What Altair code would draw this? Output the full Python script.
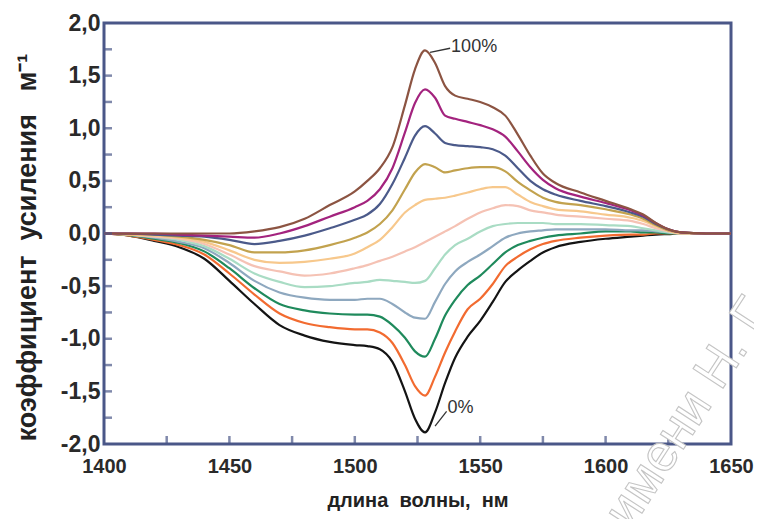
import altair as alt
import pandas as pd

# ---------------- data ----------------
wavelength = [1400, 1410, 1420, 1430, 1440, 1450, 1460, 1470, 1480, 1490,
              1500, 1505, 1510, 1515, 1520, 1524, 1528, 1532, 1536, 1540,
              1545, 1550, 1555, 1560, 1565, 1570, 1575, 1580, 1590, 1600,
              1610, 1615, 1620, 1625, 1630, 1640, 1650]

g0 = [0, -0.02, -0.07, -0.13, -0.24, -0.45, -0.67, -0.87, -0.97, -1.03,
      -1.06, -1.07, -1.10, -1.22, -1.50, -1.76, -1.89, -1.70, -1.42, -1.18,
      -0.98, -0.83, -0.65, -0.46, -0.35, -0.26, -0.18, -0.13, -0.08, -0.05,
      -0.03, -0.02, -0.01, -0.005, 0, 0, 0]
g10 = [0, -0.02, -0.06, -0.11, -0.20, -0.38, -0.58, -0.76, -0.85, -0.89,
       -0.91, -0.91, -0.94, -1.04, -1.25, -1.45, -1.54, -1.36, -1.13, -0.93,
       -0.72, -0.62, -0.48, -0.31, -0.22, -0.15, -0.10, -0.07, -0.04, -0.02,
       -0.01, -0.01, 0, 0, 0, 0, 0]
g20 = [0, -0.015, -0.05, -0.09, -0.17, -0.33, -0.52, -0.67, -0.73, -0.76,
       -0.77, -0.77, -0.79, -0.87, -0.99, -1.12, -1.17, -1.00, -0.78, -0.63,
       -0.49, -0.40, -0.29, -0.18, -0.11, -0.07, -0.04, -0.02, 0.0, 0.02,
       0.02, 0.01, 0.01, 0.0, 0, 0, 0]
g30 = [0, -0.01, -0.04, -0.08, -0.14, -0.28, -0.45, -0.56, -0.61, -0.63,
       -0.63, -0.62, -0.62, -0.67, -0.75, -0.80, -0.81, -0.65, -0.48, -0.36,
       -0.27, -0.20, -0.12, -0.04, 0.0, 0.02, 0.03, 0.04, 0.04, 0.04,
       0.03, 0.03, 0.02, 0.01, 0.0, 0, 0]
g40 = [0, -0.01, -0.03, -0.06, -0.12, -0.24, -0.38, -0.46, -0.51, -0.50,
       -0.47, -0.46, -0.44, -0.45, -0.46, -0.47, -0.45, -0.33, -0.20, -0.11,
       -0.05, 0.02, 0.07, 0.09, 0.10, 0.10, 0.10, 0.09, 0.09, 0.08,
       0.07, 0.05, 0.03, 0.01, 0.0, 0, 0]
g50 = [0, -0.01, -0.03, -0.05, -0.10, -0.20, -0.31, -0.36, -0.40, -0.38,
       -0.33, -0.30, -0.26, -0.22, -0.17, -0.13, -0.08, -0.03, 0.02, 0.07,
       0.14, 0.20, 0.24, 0.27, 0.26, 0.22, 0.20, 0.18, 0.16, 0.14,
       0.12, 0.09, 0.05, 0.02, 0.0, 0, 0]
g60 = [0, -0.01, -0.02, -0.04, -0.08, -0.16, -0.25, -0.28, -0.27, -0.24,
       -0.19, -0.13, -0.06, 0.06, 0.20, 0.27, 0.32, 0.33, 0.34, 0.36,
       0.39, 0.42, 0.44, 0.44, 0.37, 0.30, 0.26, 0.23, 0.21, 0.18,
       0.15, 0.12, 0.07, 0.03, 0.0, 0, 0]
g70 = [0, -0.005, -0.01, -0.03, -0.06, -0.11, -0.18, -0.18, -0.16, -0.11,
       -0.04, 0.01, 0.09, 0.22, 0.42, 0.58, 0.66, 0.63, 0.58, 0.60,
       0.62, 0.63, 0.63, 0.59, 0.49, 0.41, 0.34, 0.30, 0.27, 0.23,
       0.18, 0.14, 0.08, 0.03, 0.01, 0, 0]
g80 = [0, 0, -0.01, -0.02, -0.03, -0.06, -0.10, -0.07, -0.02, 0.05,
       0.13, 0.18, 0.28, 0.47, 0.72, 0.93, 1.02, 0.95, 0.86, 0.84,
       0.83, 0.82, 0.80, 0.74, 0.62, 0.50, 0.42, 0.37, 0.31, 0.26,
       0.20, 0.16, 0.09, 0.04, 0.01, 0, 0]
g90 = [0, 0, 0, -0.01, -0.02, -0.03, -0.04, 0.0, 0.07, 0.16,
       0.25, 0.31, 0.42, 0.62, 0.96, 1.24, 1.37, 1.29, 1.12, 1.09,
       1.06, 1.03, 0.99, 0.92, 0.78, 0.63, 0.51, 0.43, 0.35, 0.29,
       0.22, 0.17, 0.10, 0.04, 0.01, 0, 0]
g100 = [0, 0, 0, 0, 0, 0.0, 0.02, 0.06, 0.14, 0.27,
        0.40, 0.50, 0.62, 0.82, 1.22, 1.56, 1.74, 1.62, 1.40, 1.31,
        1.28, 1.25, 1.20, 1.12, 0.94, 0.74, 0.57, 0.48, 0.39, 0.31,
        0.23, 0.18, 0.10, 0.04, 0.01, 0, 0]

series_names = ["0%", "10%", "20%", "30%", "40%", "50%",
                "60%", "70%", "80%", "90%", "100%"]
series_values = [g0, g10, g20, g30, g40, g50, g60, g70, g80, g90, g100]
series_colors = ["#141414", "#f26b30", "#1f8a5c", "#8ea8bf", "#a9dcc4",
                 "#f5c2b4", "#f7c88c", "#c2a24e", "#4b5a8a", "#a3237e",
                 "#8c5442"]

x_labels = [1400, 1450, 1500, 1550, 1600, 1650]
y_labels = [-2.0, -1.5, -1.0, -0.5, 0.0, 0.5, 1.0, 1.5, 2.0]
x_tick_pos = [1425, 1450, 1475, 1500, 1525, 1550, 1575, 1600, 1625]
y_tick_pos = [-1.75, -1.5, -1.25, -1.0, -0.75, -0.5, -0.25, 0.0, 0.25,
              0.5, 0.75, 1.0, 1.25, 1.5, 1.75]

ann_text = ["100%", "0%"]
ann_wl = [1538.4, 1537.0]
ann_g = [1.77, -1.66]
lead_wl = [1530.0, 1532.0]
lead_g = [1.72, -1.83]
lead_wl2 = [1538.0, 1536.6]
lead_g2 = [1.76, -1.69]

# ---------------- build tables ----------------
rows = []
for name, vals in zip(series_names, series_values):
    for w, v in zip(wavelength, vals):
        rows.append({"wl": w, "g": v, "series": name})
df = pd.DataFrame(rows)

frame = "#4a5788"
font = "Liberation Sans"

x_scale = alt.Scale(domain=[1400, 1650], nice=False, zero=False)
y_scale = alt.Scale(domain=[-2.0, 2.0], nice=False, zero=False)
label_expr = ("(datum.value < 0 ? '-' : '') + "
              "replace(format(abs(datum.value), '.1f'), '.', ',')")

x_axis = alt.Axis(values=x_labels, format="d", title="длина\u00a0\u00a0волны,\u00a0\u00a0нм",
                  ticks=False, domain=False, grid=False, labelPadding=12,
                  labelFlush=False, labelOverlap=False,
                  labelFontSize=20, labelFontWeight="bold", labelColor="#2a2a2a",
                  labelFont=font,
                  titleFontSize=20, titleFont=font, titleFontWeight="bold",
                  titleColor="#222222", titlePadding=14)
y_axis = alt.Axis(values=y_labels, labelExpr=label_expr,
                  title="коэффициент\u00a0\u00a0усиления\u00a0\u00a0\u00a0м\u207b\u00b9",
                  ticks=False, domain=False, grid=False, labelPadding=4,
                  labelFlush=False, labelOverlap=False,
                  labelFontSize=23, labelFontWeight="bold", labelColor="#2a2a2a",
                  labelFont=font,
                  titleFontSize=27, titleFont=font, titleFontWeight="bold",
                  titleColor="#222222", titlePadding=19, titleY=224)


def X(field):
    return alt.X(field, scale=x_scale, axis=x_axis)


def Y(field):
    return alt.Y(field, scale=y_scale, axis=y_axis)


lines = alt.Chart(df).mark_line(strokeWidth=2.2, interpolate="monotone").encode(
    x=X("wl:Q"),
    y=Y("g:Q"),
    color=alt.Color("series:N", scale=alt.Scale(domain=series_names, range=series_colors),
                    legend=None),
)

xt = pd.DataFrame({"wl": x_tick_pos, "g": [-2.0] * len(x_tick_pos)})
xticks = alt.Chart(xt).mark_tick(orient="vertical", size=8, thickness=2.5,
                                 yOffset=-4, color=frame).encode(
    x=X("wl:Q"),
    y=Y("g:Q"),
)

yt = pd.DataFrame({"wl": [1400] * len(y_tick_pos), "g": y_tick_pos})
yticks = alt.Chart(yt).mark_tick(orient="horizontal", size=8, thickness=2.5,
                                 xOffset=4, color=frame).encode(
    x=X("wl:Q"),
    y=Y("g:Q"),
)

ann = pd.DataFrame({"wl": ann_wl, "g": ann_g, "label": ann_text,
                    "wl0": lead_wl, "g0": lead_g, "wl2": lead_wl2, "g2": lead_g2})
ann_text_layer = alt.Chart(ann).mark_text(align="left", baseline="middle", fontSize=18,
                                          font=font, color="#333333").encode(
    x=X("wl:Q"),
    y=Y("g:Q"),
    text="label:N",
)
ann_lead = alt.Chart(ann).mark_rule(color="#333333", strokeWidth=1.3).encode(
    x=X("wl0:Q"),
    y=Y("g0:Q"),
    x2="wl2:Q",
    y2="g2:Q",
)

wm = pd.DataFrame({"t": ["имени Н. Г"]})
watermark = alt.Chart(wm).mark_text(angle=303, fontSize=52, font=font, fill="#ffffff",
                                    stroke="#c4c4c4", strokeWidth=1.1,
                                    align="center", baseline="middle").encode(
    text="t:N",
    x=alt.value(584),
    y=alt.value(390),
)

chart = alt.layer(lines, xticks, yticks, ann_lead, ann_text_layer, watermark).properties(
    width=627,
    height=421,
    padding={"left": 96, "top": 15, "right": 23, "bottom": 75},
    autosize=alt.AutoSizeParams(type="none"),
    background="white",
).configure_view(stroke=frame, strokeWidth=3)

chart.save("out.html", embed_options={"renderer": "svg", "actions": False})
